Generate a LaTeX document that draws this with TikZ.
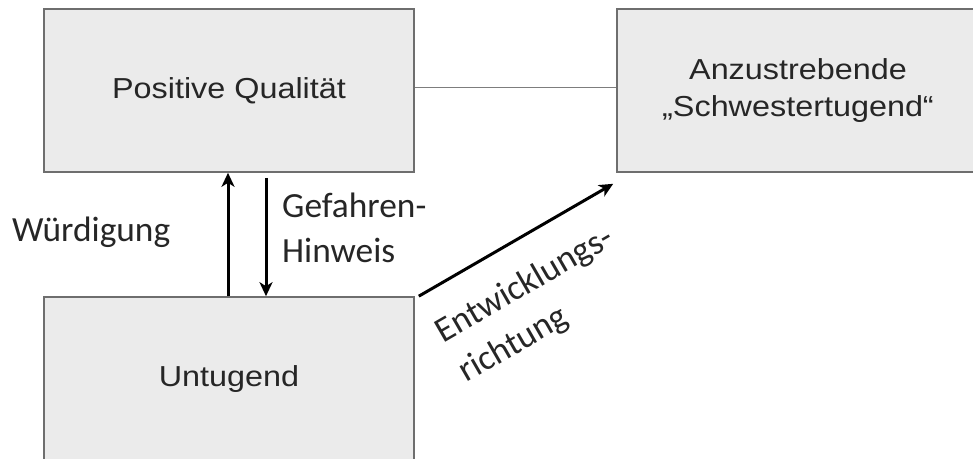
\documentclass[tikz,border=0pt]{standalone}
\usepackage{fontspec}
\setmainfont{Carlito}
\newfontfamily\arialish[FakeStretch=1.12]{Liberation Sans}
\usetikzlibrary{arrows.meta,calc}
\definecolor{boxfill}{HTML}{EBEBEB}
\definecolor{boxline}{HTML}{6E6E6E}
\definecolor{txt}{HTML}{262626}
\begin{document}
\begin{tikzpicture}[x=1bp,y=-1bp,
  box/.style={draw=boxline, fill=boxfill, line width=1.6bp, inner sep=0pt,
    text=txt, font=\arialish\fontsize{29}{38}\selectfont, align=center},
  lbl/.style={inner sep=0pt, text=txt, font=\fontsize{35.5}{46}\selectfont, align=left},
  arr/.style={line width=3bp, -{Stealth[length=14bp,width=13bp,inset=4bp]}},
  link/.style={draw=boxline!90!white, line width=1.6bp}]
\useasboundingbox (0,0) rectangle (973,459);
\clip (0,0) rectangle (973,459);
\node[box, minimum width=370bp, minimum height=163bp] (pq) at (229,90.5) {Positive Qualität};
\node[box, minimum width=362bp, minimum height=163bp] (sc) at (798,90.5) {Anzustrebende\\„Schwestertugend“};
\node[box, minimum width=370bp, minimum height=164bp] (ut) at (229,379) {Untugend};
\draw[link] ([yshift=3bp]pq.east) -- ([yshift=3bp]sc.west);
\coordinate (xa) at (228,0);
\coordinate (xb) at (266,0);
\draw[arr] (ut.north -| xa) -- (pq.south -| xa);
\draw[arr] ([yshift=-5bp]pq.south -| xb) -- (ut.north -| xb);
\draw[arr] ([xshift=4bp]ut.north east) -- ([shift={(-3bp,-11bp)}]sc.south west);
\node[lbl, anchor=base west] (wd) at (12,242) {Würdigung};
\node[lbl, anchor=base west] (gh) at (282,263) {Gefahren-\\Hinweis};
\node[lbl, anchor=base west, rotate=30] (er) at (466.5,383) {Entwicklungs-\\richtung};
\end{tikzpicture}
\end{document}
